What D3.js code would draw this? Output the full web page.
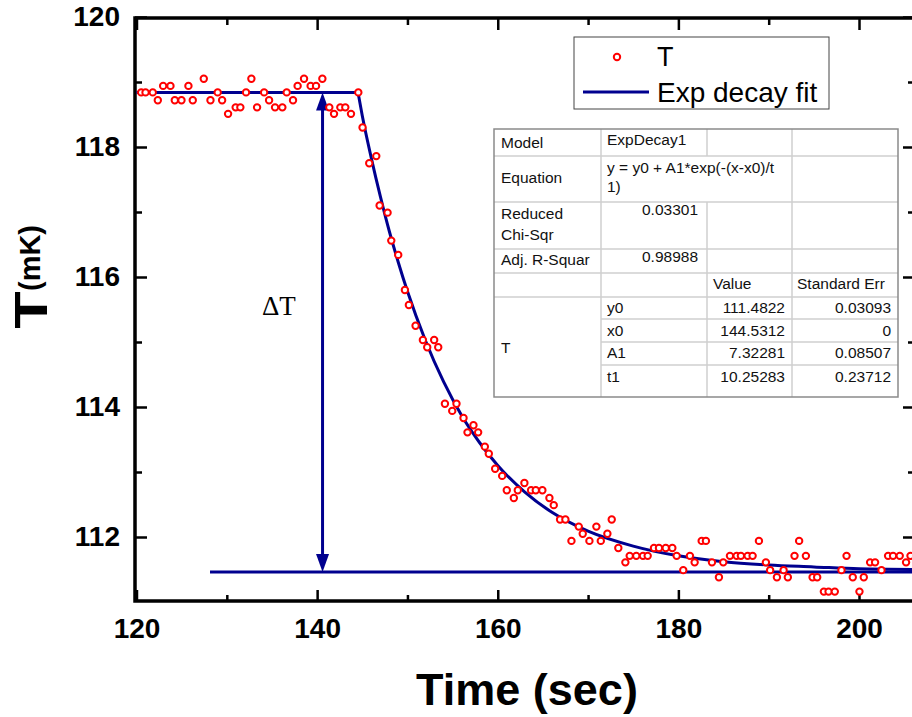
<!DOCTYPE html>
<html>
<head>
<meta charset="utf-8">
<script src="https://cdn.jsdelivr.net/npm/d3@7"></script>
<style>
  body { margin: 0; background: #fff; }
  svg { display: block; font-family: "Liberation Sans", Arial, sans-serif; }
</style>
</head>
<body>
<div id="chart"></div>
<script>
// measured temperature (mK) vs time (sec)
const timeVals = [
  120.52,121.0,121.8,122.36,122.95,123.76,124.24,124.98,125.75,126.23,127.45,128.19,128.99,129.48,
  130.14,130.98,131.5,132.13,132.72,133.35,134.13,134.68,135.34,136.15,136.63,137.33,137.84,138.55,
  139.28,139.88,140.58,141.35,141.87,142.57,143.12,143.75,144.56,145.03,
  145.77,146.55,146.92,147.80,148.21,148.98,149.72,150.16,150.90,151.71,152.19,152.96,153.41,154.15,
  154.96,155.43,156.21,156.65,157.31,157.83,158.57,159.01,159.71,160.49,161.00,161.78,162.22,162.95,
  163.69,164.21,164.94,165.72,166.20,166.90,167.49,168.16,168.97,169.41,170.15,170.92,171.41,172.14,
  172.62,173.35,174.13,174.61,175.34,176.08,176.60,177.30,177.85,178.60,179.33,179.81,180.54,181.28,
  181.80,182.58,183.05,183.72,184.49,184.97,185.71,186.45,186.92,187.67,188.22,188.92,189.69,190.16,
  190.91,191.65,192.12,192.86,193.37,194.12,194.86,195.37,196.11,196.63,197.32,198.06,198.62,199.31,
  200.05,200.53,201.23,201.78,202.49,203.22,203.77,204.51,205.21,205.70
];
const tempVals = [
  118.84,118.84,118.84,118.72,118.94,118.94,118.72,118.72,118.94,118.72,119.05,118.72,118.84,118.72,
  118.51,118.61,118.61,118.84,119.05,118.61,118.84,118.72,118.61,118.61,118.84,118.72,118.94,119.05,
  118.94,118.94,119.05,118.61,118.51,118.61,118.61,118.51,118.84,118.30,
  117.75,117.86,117.10,116.99,116.56,116.34,115.80,115.57,115.25,115.03,114.92,115.03,114.92,114.05,
  113.94,114.05,113.83,113.61,113.72,113.61,113.39,113.28,113.05,112.94,112.72,112.60,112.72,112.83,
  112.72,112.72,112.72,112.60,112.49,112.27,112.27,111.94,112.16,112.05,111.94,112.16,111.94,112.05,
  112.27,111.83,111.61,111.71,111.71,111.71,111.71,111.83,111.83,111.83,111.83,111.71,111.49,111.71,
  111.61,111.94,111.94,111.61,111.38,111.61,111.71,111.71,111.71,111.71,111.71,111.94,111.61,111.49,
  111.38,111.49,111.38,111.71,111.94,111.71,111.38,111.38,111.16,111.16,111.16,111.49,111.71,111.38,
  111.16,111.38,111.61,111.61,111.49,111.71,111.71,111.71,111.61,111.71
];

// exp decay fit
const fitTime = [144.53,145,146,147,148,149,150,152,154,156,158,160,163,166,170,175,180,185,190,195,200,206.2];
const fitTemp = [118.84,118.48,117.83,117.24,116.70,116.22,115.78,115.02,114.39,113.87,113.45,113.10,
                 112.69,112.38,112.09,111.86,111.71,111.62,111.57,111.54,111.51,111.50];
const plateauStart = 120, plateauTemp = 118.84;
const baseStart = 128.14, baseTemp = 111.46;
const arrowTime = 140.6;

const xTicks = [120,140,160,180,200];
const xMinor = [130,150,170,190];
const yTicks = [112,114,116,118,120];
const yMinor = [113,115,117,119];

// fit report table
const statLabels = ["Model","Equation","Reduced Chi-Sqr","Adj. R-Squar"];
const paramNames = ["y0","x0","A1","t1"];
const paramValues = ["111.4822","144.5312","7.32281","10.25283"];
const paramErrors = ["0.03093","0","0.08507","0.23712"];

const W = 912, H = 717;
const red = "#ff0000", navy = "#00008f";

const svg = d3.select("#chart").append("svg").attr("width", W).attr("height", H);

const x = d3.scaleLinear().domain([120, 206.2]).range([136.5, 915]);
const y = d3.scaleLinear().domain([111, 120]).range([602, 17]);

svg.append("defs").append("clipPath").attr("id", "plotClip")
  .append("rect").attr("x", 135).attr("y", 18).attr("width", 780).attr("height", 583);

// axes (ticks point inward)
function styleAxis(g) {
  g.select(".domain").remove();
  g.selectAll(".tick line").attr("stroke", "#000").attr("stroke-width", 2.5);
  g.selectAll("text").attr("font-size", 28).attr("font-weight", "bold").attr("fill", "#000")
    .attr("font-family", "'Liberation Sans', Arial, sans-serif");
}
svg.append("g").attr("transform", "translate(0,601)")
  .call(d3.axisBottom(x).tickValues(xTicks).tickSize(-11).tickPadding(17).tickFormat(d3.format("d"))).call(styleAxis);
svg.append("g").attr("transform", "translate(0,601)")
  .call(d3.axisBottom(x).tickValues(xMinor).tickSize(-6).tickFormat("")).call(styleAxis);
svg.append("g").attr("transform", "translate(0,18)")
  .call(d3.axisTop(x).tickValues(xTicks).tickSize(-12).tickFormat("")).call(styleAxis);
svg.append("g").attr("transform", "translate(0,18)")
  .call(d3.axisTop(x).tickValues(xMinor).tickSize(-7).tickFormat("")).call(styleAxis);
svg.append("g").attr("transform", "translate(135,0)")
  .call(d3.axisLeft(y).tickValues(yTicks).tickSize(-12).tickPadding(15).tickFormat(d3.format("d"))).call(styleAxis);
svg.append("g").attr("transform", "translate(135,0)")
  .call(d3.axisLeft(y).tickValues(yMinor).tickSize(-7).tickFormat("")).call(styleAxis);
svg.append("g").attr("transform", "translate(915,0)")
  .call(d3.axisRight(y).tickValues(yTicks).tickSize(-12).tickFormat("")).call(styleAxis);
svg.append("g").attr("transform", "translate(915,0)")
  .call(d3.axisRight(y).tickValues(yMinor).tickSize(-7).tickFormat("")).call(styleAxis);

svg.append("rect").attr("x", 135).attr("y", 18).attr("width", 780).attr("height", 583)
  .attr("fill", "none").attr("stroke", "#000").attr("stroke-width", 3.5);

// axis titles
svg.append("text").attr("x", 527).attr("y", 705).attr("text-anchor", "middle")
  .attr("font-size", 45).attr("font-weight", "bold").text("Time (sec)");
svg.append("text").attr("transform", "translate(47,310) rotate(-90) scale(1.3,1)")
  .attr("text-anchor", "middle").attr("font-size", 47).attr("font-weight", "bold").text("T");
svg.append("text").attr("transform", "translate(40,258) rotate(-90)")
  .attr("text-anchor", "middle").attr("font-size", 29).attr("font-weight", "bold").text("(mK)");

const plot = svg.append("g").attr("clip-path", "url(#plotClip)");

// fit: plateau + exponential decay
plot.append("line")
  .attr("x1", x(plateauStart)).attr("x2", x(fitTime[0]))
  .attr("y1", y(plateauTemp)).attr("y2", y(plateauTemp))
  .attr("stroke", navy).attr("stroke-width", 3);
const fitPts = fitTime.map((t, i) => [t, fitTemp[i]]);
plot.append("path").datum(fitPts)
  .attr("d", d3.line().x(d => x(d[0])).y(d => y(d[1])).curve(d3.curveMonotoneX))
  .attr("fill", "none").attr("stroke", navy).attr("stroke-width", 3);

// baseline
plot.append("line")
  .attr("x1", x(baseStart)).attr("x2", x(206.2))
  .attr("y1", y(baseTemp)).attr("y2", y(baseTemp))
  .attr("stroke", navy).attr("stroke-width", 3);

// delta T arrow
const ax = x(arrowTime), aTop = y(plateauTemp), aBot = y(baseTemp);
plot.append("line").attr("x1", ax).attr("x2", ax).attr("y1", aTop + 10).attr("y2", aBot - 10)
  .attr("stroke", navy).attr("stroke-width", 3);
plot.append("path").attr("d", `M${ax},${aTop}L${ax - 6.5},${aTop + 18}L${ax + 6.5},${aTop + 18}Z`).attr("fill", navy);
plot.append("path").attr("d", `M${ax},${aBot}L${ax - 6.5},${aBot - 18}L${ax + 6.5},${aBot - 18}Z`).attr("fill", navy);
svg.append("text").attr("x", 262).attr("y", 315)
  .attr("font-family", "'Liberation Serif', 'Times New Roman', serif").attr("font-size", 27)
  .text("\u0394T");

// data points
plot.selectAll("circle.pt").data(timeVals).enter().append("circle").attr("class", "pt")
  .attr("cx", d => x(d)).attr("cy", (d, i) => y(tempVals[i])).attr("r", 3.2)
  .attr("fill", "#fff").attr("stroke", red).attr("stroke-width", 2);

// legend
const leg = svg.append("g");
leg.append("rect").attr("x", 574).attr("y", 37).attr("width", 255).attr("height", 72)
  .attr("fill", "#fff").attr("stroke", "#444").attr("stroke-width", 1);
leg.append("circle").attr("cx", 617).attr("cy", 57).attr("r", 3.2)
  .attr("fill", "#fff").attr("stroke", red).attr("stroke-width", 2);
leg.append("text").attr("x", 657).attr("y", 66).attr("font-size", 27).text("T");
leg.append("line").attr("x1", 583).attr("x2", 649).attr("y1", 92).attr("y2", 92)
  .attr("stroke", navy).attr("stroke-width", 3);
leg.append("text").attr("x", 657).attr("y", 102).attr("font-size", 28).text("Exp decay fit");

// fit report table
const colX = [494, 601, 707, 792, 898];
const rowY = [129, 156, 202, 249, 273, 297, 319, 342, 365, 397];
const tbl = svg.append("g").attr("font-size", 15.5).attr("fill", "#111");
tbl.append("rect").attr("x", colX[0]).attr("y", rowY[0]).attr("width", colX[4] - colX[0])
  .attr("height", rowY[9] - rowY[0]).attr("fill", "#fff");
const grid = "#cfcfcf";
rowY.slice(1, 9).forEach((ry, i) => {
  const x0 = (i + 1 >= 6) ? colX[1] : colX[0];
  tbl.append("line").attr("x1", x0).attr("x2", colX[4]).attr("y1", ry).attr("y2", ry)
    .attr("stroke", grid).attr("stroke-width", 1.5);
});
tbl.append("line").attr("x1", colX[1]).attr("x2", colX[1]).attr("y1", rowY[0]).attr("y2", rowY[9]).attr("stroke", grid).attr("stroke-width", 1.5);
tbl.append("line").attr("x1", colX[2]).attr("x2", colX[2]).attr("y1", rowY[0]).attr("y2", rowY[1]).attr("stroke", grid).attr("stroke-width", 1.5);
tbl.append("line").attr("x1", colX[2]).attr("x2", colX[2]).attr("y1", rowY[2]).attr("y2", rowY[9]).attr("stroke", grid).attr("stroke-width", 1.5);
tbl.append("line").attr("x1", colX[3]).attr("x2", colX[3]).attr("y1", rowY[0]).attr("y2", rowY[9]).attr("stroke", grid).attr("stroke-width", 1.5);
tbl.append("rect").attr("x", colX[0]).attr("y", rowY[0]).attr("width", colX[4] - colX[0])
  .attr("height", rowY[9] - rowY[0]).attr("fill", "none").attr("stroke", "#8a8a8a").attr("stroke-width", 1.5);

function cell(txt, tx, ty, anchor) {
  tbl.append("text").attr("x", tx).attr("y", ty).attr("text-anchor", anchor || "start").text(txt);
}
cell(statLabels[0], 501, 148);
cell("ExpDecay1", 607, 145);
cell(statLabels[1], 501, 183);
cell("y = y0 + A1*exp(-(x-x0)/t", 607, 173);
cell("1)", 607, 192);
cell("Reduced", 501, 219);
cell("Chi-Sqr", 501, 240);
cell("0.03301", 698, 215, "end");
cell(statLabels[3], 501, 265);
cell("0.98988", 698, 262, "end");
cell("Value", 713, 289);
cell("Standard Err", 797, 289);
cell("T", 501, 353);
const paramBase = [313, 336, 358, 382];
paramNames.forEach((p, i) => {
  cell(p, 607, paramBase[i]);
  cell(paramValues[i], 785, paramBase[i], "end");
  cell(paramErrors[i], 891, paramBase[i], "end");
});
</script>
</body>
</html>
